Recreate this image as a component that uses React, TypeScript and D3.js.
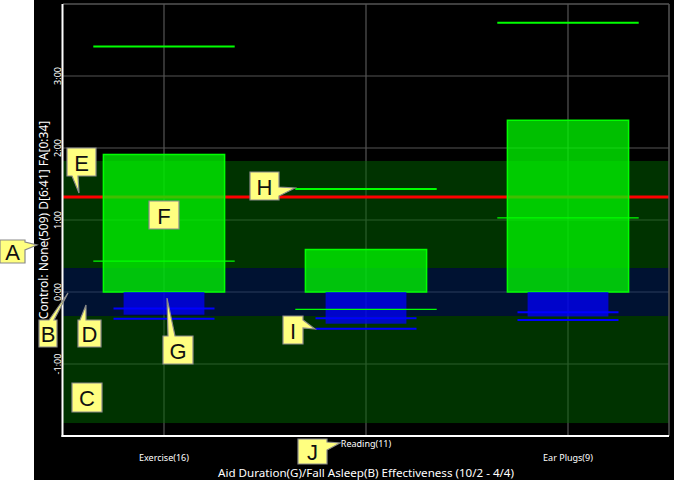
import React from "react";
import * as d3 from "d3";

const categories = ["Exercise(16)", "Reading(11)", "Ear Plugs(9)"];
const aidDuration = [1.91, 0.59, 2.385];
const aidMid = [0.43, -0.24, 1.03];
const aidTop = [3.41, 1.43, 3.74];
const fallAsleep = [-0.315, -0.44, -0.34];
const fallLine1 = [-0.23, -0.366, -0.28];
const fallLine2 = [-0.37, -0.51, -0.39];
const controlDuration = 1.32;
const durationBand = 1.82;
const fallBand = 0.333;
const yTicks = [-1, 0, 1, 2, 3];
const yTitle = "Control: None(509) D[6:41] FA[0:34]";
const xTitle = "Aid Duration(G)/Fall Asleep(B) Effectiveness (10/2 - 4/4)";

type Callout = { t: string; box: number[]; side?: string; base?: number[]; tip?: number[] };
const callouts: Callout[] = [
  { t: "A", box: [0, 240, 25, 263], side: "right", base: [242, 250], tip: [37, 245] },
  { t: "B", box: [39, 320, 57, 347], side: "top", base: [49, 54], tip: [68, 293] },
  { t: "C", box: [72, 383, 102, 412] },
  { t: "D", box: [78, 320, 101, 347], side: "top", base: [80, 86], tip: [86, 305] },
  { t: "E", box: [67, 148, 96, 176], side: "bottom", base: [72, 78], tip: [79, 193] },
  { t: "F", box: [149, 201, 179, 229] },
  { t: "G", box: [163, 336, 193, 364], side: "top", base: [168, 175], tip: [167, 298] },
  { t: "H", box: [250, 172, 279, 200], side: "right", base: [187, 196], tip: [295, 188] },
  { t: "I", box: [283, 316, 303, 344], side: "right", base: [320, 328], tip: [315, 329] },
  { t: "J", box: [298, 439, 327, 464], side: "right", base: [442, 450], tip: [340, 443] },
];

function calloutPath(c: Callout) {
  const [x0, y0, x1, y1] = c.box;
  const p = d3.path();
  p.moveTo(x0, y0);
  if (c.side === "top") {
    p.lineTo(c.base![0], y0);
    p.lineTo(c.tip![0], c.tip![1]);
    p.lineTo(c.base![1], y0);
  }
  p.lineTo(x1, y0);
  if (c.side === "right") {
    p.lineTo(x1, c.base![0]);
    p.lineTo(c.tip![0], c.tip![1]);
    p.lineTo(x1, c.base![1]);
  }
  p.lineTo(x1, y1);
  if (c.side === "bottom") {
    p.lineTo(c.base![1], y1);
    p.lineTo(c.tip![0], c.tip![1]);
    p.lineTo(c.base![0], y1);
  }
  p.lineTo(x0, y1);
  p.closePath();
  return p.toString();
}

function fmt(h: number) {
  const sign = h < 0 ? "-" : "";
  const a = Math.abs(h);
  const hh = Math.floor(a);
  const mm = Math.round((a - hh) * 60);
  return `${sign}${hh}:${String(mm).padStart(2, "0")}`;
}

export default function App() {
  const W = 674, H = 480;
  const left = 63, right = 669, top = 4, bottom = 436;
  const y = d3.scaleLinear().domain([-2, 4]).range([bottom, top]);
  const x = d3.scaleBand().domain(categories).range([left, right]);
  const bw = x.bandwidth();
  const cx = (c: string) => (x(c) as number) + bw / 2;
  const font = "'Noto Sans', 'DejaVu Sans', sans-serif";

  return (
    <svg width={W} height={H} style={{ position: "absolute", left: 0, top: 0 }}>
      <rect x={0} y={0} width={W} height={H} fill="#ffffff" />
      <rect x={34} y={0} width={W - 34} height={H} fill="#000000" />
      {/* gridlines */}
      {yTicks.map((t) => (
        <line key={"g" + t} x1={left} x2={right} y1={y(t)} y2={y(t)} stroke="#555" strokeWidth={1.2} />
      ))}
      {categories.map((c) => (
        <line key={"v" + c} x1={cx(c)} x2={cx(c)} y1={top} y2={bottom} stroke="#555" strokeWidth={1.2} />
      ))}
      {/* bands */}
      <rect x={left} y={y(durationBand)} width={right - left} height={y(fallBand) - y(durationBand)} fill="rgba(0,102,0,0.5)" />
      <rect x={left} y={y(-fallBand)} width={right - left} height={y(-durationBand) - y(-fallBand)} fill="rgba(0,102,0,0.5)" />
      <rect x={left} y={y(fallBand)} width={right - left} height={y(-fallBand) - y(fallBand)} fill="rgba(0,36,100,0.5)" />
      {/* control line */}
      <line x1={left} x2={right} y1={y(controlDuration)} y2={y(controlDuration)} stroke="#ff0000" strokeWidth={3} />
      {/* bars */}
      {categories.map((c, i) => (
        <rect key={"gb" + c} x={cx(c) - bw * 0.3} width={bw * 0.6} y={y(aidDuration[i])} height={y(0) - y(aidDuration[i])}
          fill="#00ff00" fillOpacity={0.75} stroke="#00ff00" strokeWidth={1.5} />
      ))}
      {categories.map((c, i) => (
        <rect key={"bb" + c} x={cx(c) - bw * 0.2} width={bw * 0.4} y={y(0)} height={y(fallAsleep[i]) - y(0)}
          fill="#0000ff" fillOpacity={0.75} />
      ))}
      {categories.map((c, i) => (
        <g key={"ln" + c}>
          <line x1={cx(c) - bw * 0.35} x2={cx(c) + bw * 0.35} y1={y(aidTop[i])} y2={y(aidTop[i])} stroke="#00ff00" strokeWidth={2} />
          <line x1={cx(c) - bw * 0.35} x2={cx(c) + bw * 0.35} y1={y(aidMid[i])} y2={y(aidMid[i])} stroke="#00ff00" strokeWidth={1.3} />
          <line x1={cx(c) - bw * 0.25} x2={cx(c) + bw * 0.25} y1={y(fallLine1[i])} y2={y(fallLine1[i])} stroke="#0000ff" strokeWidth={2} />
          <line x1={cx(c) - bw * 0.25} x2={cx(c) + bw * 0.25} y1={y(fallLine2[i])} y2={y(fallLine2[i])} stroke="#0000ff" strokeWidth={2} />
        </g>
      ))}
      {/* borders */}
      <line x1={left} x2={right} y1={top} y2={top} stroke="#555" strokeWidth={1.5} />
      <line x1={right} x2={right} y1={top} y2={bottom} stroke="#555" strokeWidth={1.5} />
      <line x1={left - 0.5} x2={left - 0.5} y1={top} y2={bottom + 1} stroke="#fff" strokeWidth={2} />
      <line x1={left - 1.5} x2={right} y1={bottom} y2={bottom} stroke="#fff" strokeWidth={2} />
      {/* y tick labels */}
      {yTicks.map((t) => (
        <text key={"yt" + t} transform={`translate(57,${y(t)}) rotate(-90)`} textAnchor="middle" dominantBaseline="central"
          fill="#fff" fontSize={9} fontFamily={font}>{fmt(t)}</text>
      ))}
      <text transform={`translate(43,${(top + bottom) / 2}) rotate(-90)`} textAnchor="middle" dominantBaseline="central"
        fill="#fff" fontSize={12} fontFamily={font}>{yTitle}</text>
      {/* x labels */}
      {categories.map((c, i) => (
        <text key={"xl" + c} x={cx(c)} y={i % 2 === 1 ? 443 : 457} textAnchor="middle" dominantBaseline="central"
          fill="#fff" fontSize={9} fontFamily={font}>{c}</text>
      ))}
      <text x={366} y={472} textAnchor="middle" dominantBaseline="central" fill="#fff" fontSize={11.6} fontFamily={font}>{xTitle}</text>
      {/* callouts */}
      {callouts.map((c) => (
        <g key={"co" + c.t}>
          <path d={calloutPath(c)} fill="#ffff80" stroke="#8a8a8a" strokeWidth={1.2} />
          <text x={(c.box[0] + c.box[2]) / 2} y={(c.box[1] + c.box[3]) / 2 + 1} textAnchor="middle" dominantBaseline="central"
            fill="#111" fontSize={22} fontFamily="'Liberation Sans', Arial, sans-serif">{c.t}</text>
        </g>
      ))}
    </svg>
  );
}
